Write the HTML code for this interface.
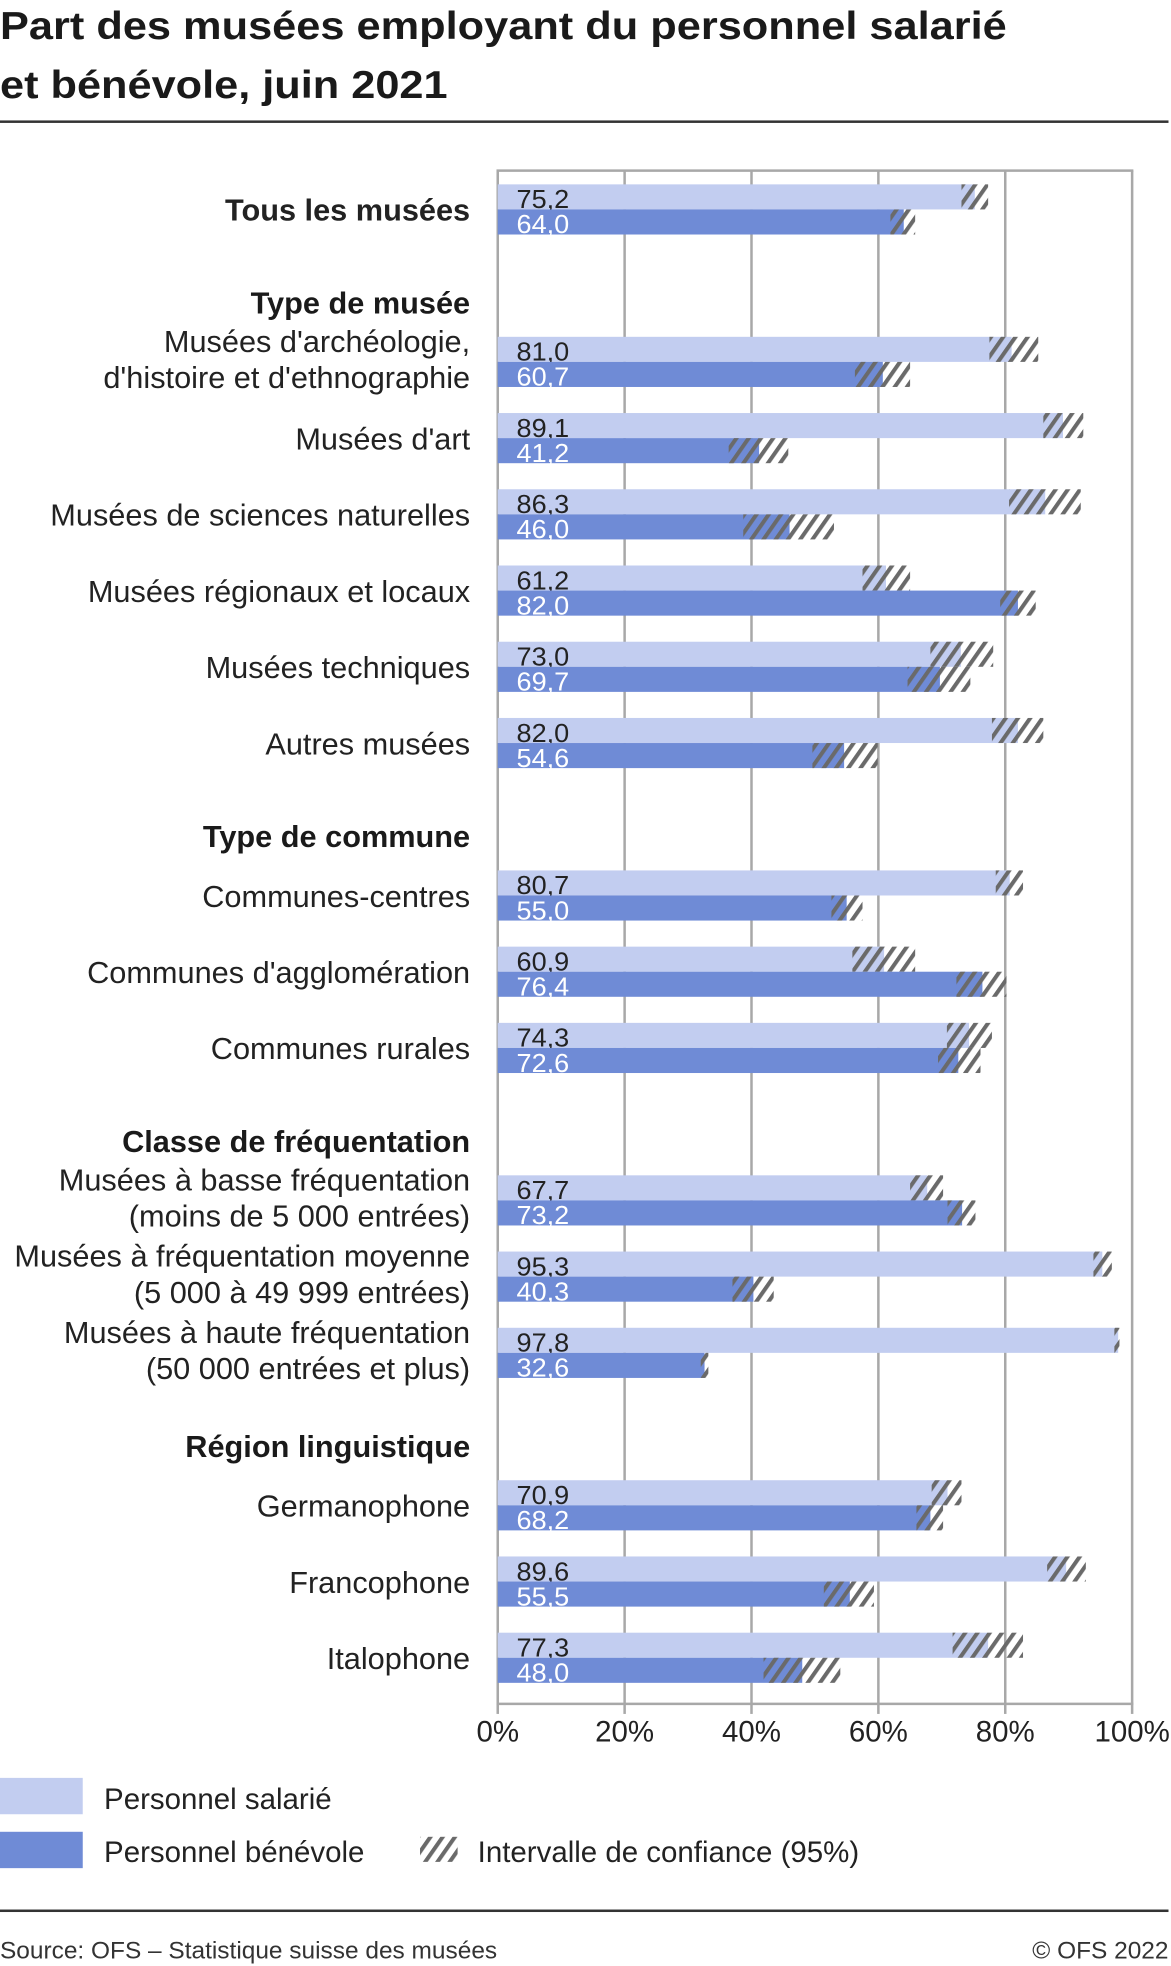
<!DOCTYPE html>
<html><head><meta charset="utf-8"><style>
html,body{margin:0;padding:0;background:#fff;}
svg{display:block;}
text{font-family:"Liberation Sans",sans-serif;}
</style></head><body>
<svg id="chart" width="1171" height="1966" viewBox="0 0 934 1568" xmlns="http://www.w3.org/2000/svg">
<defs>
<pattern id="hatch" patternUnits="userSpaceOnUse" width="8" height="8" patternTransform="rotate(35)">
<rect x="0" y="0" width="3.2" height="8" fill="#6a6a6a"/>
</pattern>
</defs>
<text x="0" y="31" font-size="31" font-weight="bold" fill="#1a1a1a" textLength="803" lengthAdjust="spacingAndGlyphs">Part des musées employant du personnel salarié</text>
<text x="0" y="78" font-size="31" font-weight="bold" fill="#1a1a1a" textLength="357" lengthAdjust="spacingAndGlyphs">et bénévole, juin 2021</text>
<rect x="0" y="96" width="932" height="2" fill="#333"/>
<g id="grid"></g>
<g id="labels"></g>
<g id="bars"></g>
<g id="axis"></g>
<g>
<rect x="0" y="1418" width="66" height="29" fill="#c2cdf0"/>
<text x="83" y="1443" font-size="23.5" fill="#222">Personnel salarié</text>
<rect x="0" y="1461" width="66" height="29" fill="#6f8bd6"/>
<text x="83" y="1485" font-size="23.5" fill="#222">Personnel bénévole</text>
<rect x="335" y="1465" width="30" height="20" fill="url(#hatch)"/>
<text x="381" y="1485" font-size="23.5" fill="#222">Intervalle de confiance (95%)</text>
</g>
<rect x="0" y="1523" width="932" height="2" fill="#333"/>
<text x="0" y="1562" font-size="19.5" fill="#333">Source: OFS – Statistique suisse des musées</text>
<text x="932" y="1562" font-size="19.5" fill="#333" text-anchor="end">© OFS 2022</text>
</svg>
<script>
const categories = [
 ["Tous les musées"],
 ["Musées d'archéologie,","d'histoire et d'ethnographie"],
 ["Musées d'art"],
 ["Musées de sciences naturelles"],
 ["Musées régionaux et locaux"],
 ["Musées techniques"],
 ["Autres musées"],
 ["Communes-centres"],
 ["Communes d'agglomération"],
 ["Communes rurales"],
 ["Musées à basse fréquentation","(moins de 5 000 entrées)"],
 ["Musées à fréquentation moyenne","(5 000 à 49 999 entrées)"],
 ["Musées à haute fréquentation","(50 000 entrées et plus)"],
 ["Germanophone"],
 ["Francophone"],
 ["Italophone"]
];
const salarie = [75.2,81.0,89.1,86.3,61.2,73.0,82.0,80.7,60.9,74.3,67.7,95.3,97.8,70.9,89.6,77.3];
const salarieLo = [73.1,77.5,86.0,80.6,57.5,68.2,77.9,78.5,55.9,70.8,65.0,93.9,97.2,68.4,86.6,71.7];
const salarieHi = [77.3,85.2,92.3,91.9,65.0,78.1,86.0,82.8,65.8,77.9,70.2,96.8,98.0,73.1,92.7,82.8];
const benevole = [64.0,60.7,41.2,46.0,82.0,69.7,54.6,55.0,76.4,72.6,73.2,40.3,32.6,68.2,55.5,48.0];
const benevoleLo = [61.9,56.3,36.4,38.7,79.2,64.6,49.6,52.6,72.3,69.4,70.9,37.0,32.0,66.0,51.4,41.9];
const benevoleHi = [65.8,65.0,45.8,53.0,84.8,74.5,59.9,57.5,80.2,76.1,75.3,43.5,33.2,70.2,59.3,54.0];
const headers = ["Type de musée","Type de commune","Classe de fréquentation","Région linguistique"];
const headerBefore = [1,7,10,13];
const ticks = [0,20,40,60,80,100];
const tickLabels = ["0%","20%","40%","60%","80%","100%"];

const NS="http://www.w3.org/2000/svg";
const X0=397, X1=903, Y0=136, Y1=1359;
function x(v){return X0+(v/100)*(X1-X0);}
function slotOf(i){let s=i;for(const h of headerBefore){if(i>=h)s++;}return s;}
function rowY(i){return 147+slotOf(i)*60.8;}
function mk(tag,attrs,parent){const e=document.createElementNS(NS,tag);for(const k in attrs)e.setAttribute(k,attrs[k]);parent.appendChild(e);return e;}

const grid=document.getElementById('grid');
ticks.forEach((t,k)=>{
  const l=mk('line',{x1:x(t),x2:x(t),y1:Y0,y2:Y1,stroke:'#a8a8a8','stroke-width':2},grid);
  
  
});
const frameTop=mk('line',{x1:X0-1,x2:X1+1,y1:Y0,y2:Y0,stroke:'#a8a8a8','stroke-width':2},grid);



const axisG=document.getElementById('axis');
const baseLine=mk('line',{x1:X0-1,x2:X1+1,y1:Y1,y2:Y1,stroke:'#a8a8a8','stroke-width':2},axisG);


ticks.forEach((t,k)=>{
  const tk=mk('line',{x1:x(t),x2:x(t),y1:Y1,y2:Y1+8,stroke:'#a8a8a8','stroke-width':2},axisG);
  
  
  const tx=mk('text',{x:x(t),y:1389,'font-size':23.5,fill:'#222','text-anchor':'middle'},axisG);
  tx.textContent=tickLabels[k];
  
  
});

const labelsG=document.getElementById('labels');
headers.forEach((h,k)=>{
  const idx=headerBefore[k];
  const t=mk('text',{x:375,y:rowY(idx)-18.5,'font-size':24.5,'font-weight':'bold',fill:'#1a1a1a','text-anchor':'end'},labelsG);
  t.textContent=h;
  
  
});
categories.forEach((c,i)=>{
  const y=rowY(i);
  const bold=(i===0);
  if(c.length===1){
    const t=mk('text',{x:375,y:y+29,'font-size':24.5,'font-weight':bold?'bold':'normal',fill:'#222','text-anchor':'end'},labelsG);
    t.textContent=c[0];
    
    
  } else {
    c.forEach((line,j)=>{
      const t=mk('text',{x:375,y:y+12+j*29,'font-size':24.5,fill:'#222','text-anchor':'end'},labelsG);
      t.textContent=line;
      
      
    });
  }
});

const barsG=document.getElementById('bars');
function drawBar(v,lo,hi,y,color,txtColor,name){
  const r=mk('rect',{x:X0,y:y,width:x(v)-X0,height:20,fill:color},barsG);
  
  
  const h=mk('rect',{x:x(lo),y:y,width:x(hi)-x(lo),height:20,fill:'url(#hatch)'},barsG);
  
  
  const t=mk('text',{x:412,y:y+19,'font-size':21,fill:txtColor,textLength:42,lengthAdjust:'spacingAndGlyphs'},barsG);
  t.textContent=v.toFixed(1).replace('.',',');
  
  
}
categories.forEach((c,i)=>{
  const y=rowY(i);
  drawBar(salarie[i],salarieLo[i],salarieHi[i],y,'#c2cdf0','#222','bar-salarie');
  drawBar(benevole[i],benevoleLo[i],benevoleHi[i],y+20,'#6f8bd6','#fff','bar-benevole');
});
</script>
</body></html>
